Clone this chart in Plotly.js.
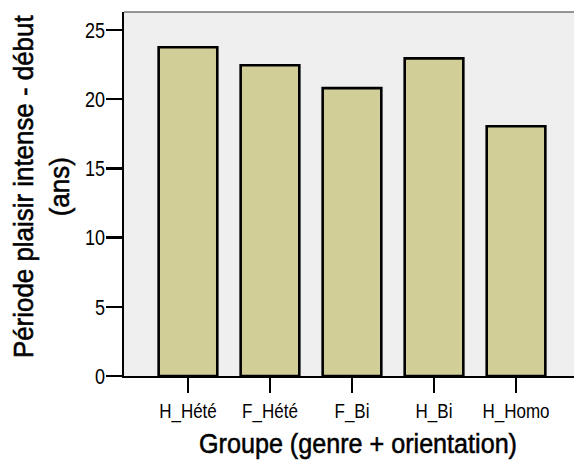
<!DOCTYPE html>
<html>
<head>
<meta charset="utf-8">
<script src="https://cdn.plot.ly/plotly-3.0.1.min.js"></script>
<style>
html,body{margin:0;padding:0;background:#fff;}
.xtitle, .ytitle { stroke: #000000; stroke-width: 0.55px; paint-order: fill; }
</style>
</head>
<body>
<div id="chart" style="width:574px;height:466px;"></div>
<script>
const categories = ["H_Hété", "F_Hété", "F_Bi", "H_Bi", "H_Homo"];
const values = [23.75, 22.45, 20.8, 22.95, 18.05];
const yTicks = [0, 5, 10, 15, 20, 25];
const xTitle = "Groupe (genre + orientation)";
const yTitle = "Période plaisir intense - début<br>(ans)";

const fontFam = "'Liberation Sans', Arial, sans-serif";

const trace = {
  type: "bar",
  x: categories,
  y: values,
  width: 0.715,
  marker: { color: "#d2ce98", line: { color: "#000000", width: 2.6 } },
  hoverinfo: "skip"
};

const layout = {
  width: 574,
  height: 466,
  margin: { l: 124, r: 0, t: 12, b: 90, pad: 0 },
  paper_bgcolor: "#ffffff",
  plot_bgcolor: "#efefef",
  showlegend: false,
  font: { family: fontFam, color: "#000000" },
  xaxis: {
    type: "category",
    range: [-0.78, 4.707],
    showgrid: false,
    zeroline: false,
    showline: true,
    linecolor: "#000000",
    linewidth: 2,
    ticks: "outside",
    ticklen: 15,
    tickwidth: 2.5,
    tickcolor: "#000000",
    tickangle: 0,
    tickfont: { family: fontFam, size: 21, color: "#000000" },
    title: { text: xTitle, font: { family: fontFam, size: 28, color: "#000000" }, standoff: 10 }
  },
  yaxis: {
    range: [0, 26.3],
    tickvals: yTicks,
    showgrid: false,
    zeroline: false,
    showline: true,
    linecolor: "#000000",
    linewidth: 2,
    ticks: "outside",
    ticklen: 16,
    tickwidth: 2.5,
    tickcolor: "#000000",
    tickfont: { family: fontFam, size: 22, color: "#000000" },
    title: { text: yTitle, font: { family: fontFam, size: 28, color: "#000000" }, standoff: 10 }
  },
  shapes: [
    { type: "line", xref: "paper", yref: "paper", x0: 0, x1: 1, y0: 1, y1: 1, line: { color: "#333333", width: 1 } }
  ]
};

// emulate the narrow (condensed) typeface of the original and place the texts
function scaleLocal(el, sx, sy, anchor) {
  const bb = el.getBBox();
  const cx = anchor === "end" ? bb.x + bb.width : (anchor === "start" ? bb.x : bb.x + bb.width / 2);
  const cy = bb.y + bb.height / 2;
  const t = el.getAttribute("transform") || "";
  el.setAttribute("transform", t + " translate(" + cx + "," + cy + ") scale(" + sx + "," + sy + ") translate(" + (-cx) + "," + (-cy) + ")");
}
function shift(el, dx, dy) {
  const t = el.getAttribute("transform") || "";
  el.setAttribute("transform", "translate(" + dx + "," + dy + ") " + t);
}

Plotly.newPlot("chart", [trace], layout, { staticPlot: true, displayModeBar: false }).then(function (gd) {
  gd.querySelectorAll(".xtick text").forEach(function (el) {
    scaleLocal(el, 0.81, 1, "mid");
    const r = el.getBoundingClientRect();
    shift(el, 0, 399 - r.top);
  });
  gd.querySelectorAll(".ytick text").forEach(function (el) {
    scaleLocal(el, 0.82, 1, "end");
    const r = el.getBoundingClientRect();
    shift(el, 105 - r.right, 0);
  });
  const xt = gd.querySelector(".xtitle");
  if (xt) {
    const bb = xt.getBBox();
    scaleLocal(xt, 318 / bb.width, 1, "mid");
    const r = xt.getBoundingClientRect();
    shift(xt, 358 - (r.left + r.width / 2), 427.7 - r.top);
  }
  const yt = gd.querySelector(".ytitle");
  if (yt) {
    const bb = yt.getBBox();
    scaleLocal(yt, 343 / bb.width, 1, "mid");
    const r = yt.getBoundingClientRect();
    shift(yt, 7.7 - r.left, 186.5 - (r.top + r.height / 2));
  }
});
</script>
</body>
</html>
